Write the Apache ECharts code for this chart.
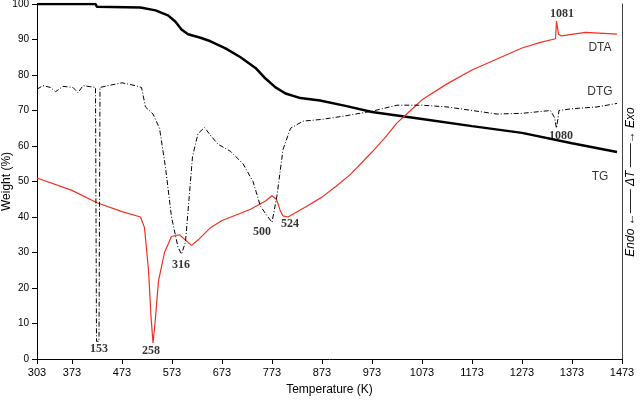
<!DOCTYPE html>
<html><head><meta charset="utf-8">
<script src="https://cdn.jsdelivr.net/npm/echarts@6/dist/echarts.min.js"></script>
<style>html,body{margin:0;background:#fff}#c{width:640px;height:400px}</style>
</head><body><div id="c"></div>
<script>
const xTicks=[303,373,473,573,673,773,873,973,1073,1173,1273,1373,1473];
const tg=[[303,100],[420,100],[423,99.2],[510,99],[540,98.2],[565,96.8],[580,95],[592,92.8],[605,91.5],[630,90.5],[650,89.5],[680,87.5],[710,85],[740,82],[760,79],[780,76.5],[800,74.8],[830,73.5],[869,72.8],[920,71.3],[973,69.6],[1073,67.6],[1173,65.6],[1273,63.7],[1373,60.8],[1463,58.3]];
const dta=[[303,51],[373,47.5],[423,44],[473,41.5],[510,40],[518,37],[526,25],[531,12],[535,4.5],[539,10],[546,22],[558,30],[572,34.5],[588,35],[600,33.5],[612,32],[625,33.5],[650,37],[673,39],[700,40.5],[730,42.2],[760,44.5],[773,46],[782,45],[789,42],[795,40.3],[805,40],[840,42.8],[873,45.6],[900,48.5],[930,52],[973,58.3],[1000,62.5],[1023,66.5],[1050,70],[1073,73],[1123,77.5],[1173,81.4],[1223,84.5],[1273,87.6],[1310,89.2],[1340,90.2],[1342,95.2],[1346,91.5],[1352,91],[1400,92],[1463,91.5]];
const dtg=[[303,76],[315,77],[330,76.5],[340,75.3],[355,76.8],[375,76.5],[385,75],[395,77],[420,76.5],[422,5],[427,5],[429,76.5],[445,77],[473,77.8],[500,77],[512,76.5],[520,71],[535,69],[548,65],[560,54],[572,40],[585,31.5],[592,29.5],[600,33],[607,45],[614,57],[625,63.5],[638,65.2],[650,63],[665,60.5],[690,58.5],[715,55],[735,50],[750,43],[765,40],[773,38.5],[783,46],[795,59],[810,65],[835,67],[873,67.5],[920,68.5],[973,69.8],[1023,71.5],[1073,71.5],[1123,71],[1173,70],[1223,69],[1273,69.2],[1330,70],[1338,68],[1342,65],[1347,70],[1373,70.5],[1423,71],[1463,72]];
const peaks=[[427,2.8,'153'],[531,2.3,'258'],[591,26.5,'316'],[753,35.8,'500'],[809,38,'524'],[1353,97.2,'1081'],[1351,62.8,'1080']];
const tags=[[1429,87.6,'DTA'],[1429,75.2,'DTG'],[1429,51.3,'TG']];
const chart=echarts.init(document.getElementById('c'));
chart.setOption({
 animation:false,
 grid:{left:37,right:18,top:4,bottom:41,containLabel:false,outerBoundsMode:'none'},
 xAxis:{type:'value',min:303,max:1473,name:'Temperature (K)',nameLocation:'middle',nameGap:25,
  nameTextStyle:{fontFamily:'Liberation Sans',fontSize:12,color:'#000'},
  axisLine:{lineStyle:{color:'#000'}},splitLine:{show:false},
  axisTick:{customValues:xTicks,lineStyle:{color:'#000'}},
  axisLabel:{customValues:xTicks,formatter:v=>String(v),fontFamily:'Liberation Sans',fontSize:11,color:'#000'}},
 yAxis:[{type:'value',min:0,max:100,interval:10,name:'Weight (%)',nameLocation:'middle',nameGap:24,nameMoveOverlap:false,
  nameTextStyle:{fontFamily:'Liberation Sans',fontSize:12,color:'#000'},
  axisLine:{show:true,lineStyle:{color:'#000'}},axisTick:{show:true,lineStyle:{color:'#000'}},splitLine:{show:false},
  axisLabel:{fontFamily:'Liberation Sans',fontSize:10,color:'#000'}},
  {type:'value',min:0,max:100,position:'right',axisLine:{show:true,lineStyle:{color:'#444'}},axisTick:{show:false},axisLabel:{show:false},splitLine:{show:false}}],
 series:[
  {type:'line',data:tg,showSymbol:false,lineStyle:{color:'#000',width:2.5}},
  {type:'line',data:dta,showSymbol:false,lineStyle:{color:'#f03020',width:1.2}},
  {type:'line',data:dtg,showSymbol:false,lineStyle:{color:'#000',width:1,type:[5,2,1,2]}},
  {type:'scatter',data:peaks,symbolSize:0,label:{show:true,position:'inside',formatter:p=>p.data[2],fontFamily:'Liberation Serif',fontWeight:'bold',fontSize:12,color:'#000'}},
  {type:'scatter',data:tags,symbolSize:0,label:{show:true,position:'inside',formatter:p=>p.data[2],fontFamily:'Liberation Sans',fontSize:12,color:'#000'}}
 ],
 graphic:[{type:'text',x:631,y:182,rotation:Math.PI/2,
  style:{text:'Endo ←—— ΔT ——→ Exo',font:'italic 12px "Liberation Sans"',fill:'#000',align:'center',verticalAlign:'middle'}}]
});
</script></body></html>
